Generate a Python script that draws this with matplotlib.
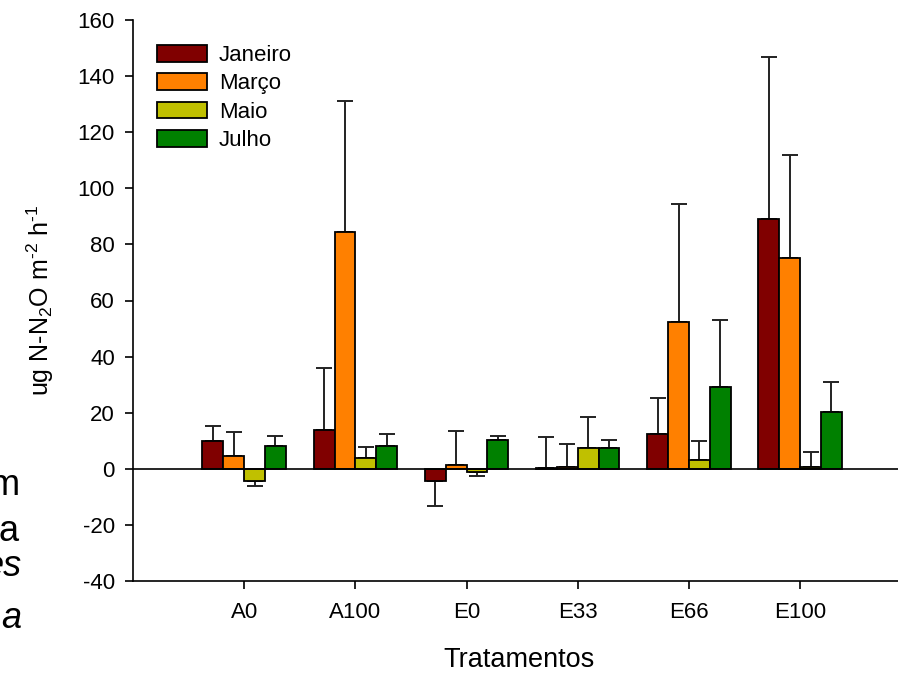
import numpy as np
import matplotlib
matplotlib.use("Agg")
import matplotlib.pyplot as plt

plt.rcParams['font.family'] = ['Liberation Sans', 'DejaVu Sans']
plt.rcParams['axes.unicode_minus'] = False
plt.rcParams['mathtext.fontset'] = 'custom'
plt.rcParams['mathtext.rm'] = 'Liberation Sans'
plt.rcParams['mathtext.it'] = 'Liberation Sans:italic'

tratamentos = ['A0', 'A100', 'E0', 'E33', 'E66', 'E100']
meses = ['Janeiro', 'Março', 'Maio', 'Julho']
cores = ['#800000', '#FF8000', '#C0C000', '#008000']

# médias por mês (ordem dos tratamentos)
janeiro = [10.0, 13.9, -4.5, 0.3, 12.5, 89.0]
marco = [4.6, 84.5, 1.2, 0.8, 52.5, 75.0]
maio = [-4.5, 3.8, -1.0, 7.4, 3.1, 0.6]
julho = [8.0, 8.0, 10.1, 7.4, 29.3, 20.2]

# desvios (barra de erro só para um lado)
erro_janeiro = [5.4, 22.1, 8.7, 10.9, 12.6, 57.7]
erro_marco = [8.6, 46.6, 12.1, 8.2, 41.8, 37.0]
erro_maio = [1.5, 3.8, 1.4, 11.2, 6.9, 5.4]
erro_julho = [3.8, 4.4, 1.6, 2.9, 23.7, 10.7]

medias = [janeiro, marco, maio, julho]
erros = [erro_janeiro, erro_marco, erro_maio, erro_julho]

fig = plt.figure(figsize=(8.98, 6.73), dpi=100)
ax = fig.add_axes([133/898, 1 - 581/673, 1 - 133/898, 561/673])

x = np.arange(len(tratamentos))
w = 0.1875
for i, (mes, cor) in enumerate(zip(meses, cores)):
    pos = x + (i - 1.5) * w
    vals = np.array(medias[i])
    err = np.array(erros[i])
    lower = np.where(vals < 0, err, 0)
    upper = np.where(vals >= 0, err, 0)
    ax.bar(pos, vals, w, color=cor, edgecolor='black', linewidth=1.3,
           label=mes, zorder=3)
    ax.errorbar(pos, vals, yerr=[lower, upper], fmt='none', ecolor='#222222',
                elinewidth=1.4, capsize=5.8, capthick=1.4, zorder=2)

ax.axhline(0, color='black', linewidth=1.2, zorder=4)

ax.set_xlim(-1.0, 5.88)
ax.set_ylim(-40, 160)
ax.set_yticks(range(-40, 161, 20))
ax.set_xticks(x)
ax.set_xticklabels(tratamentos)
ax.spines['top'].set_visible(False)
ax.spines['right'].set_visible(False)
ax.spines['left'].set_linewidth(1.2)
ax.spines['bottom'].set_linewidth(1.2)
ax.tick_params(axis='both', direction='out', length=6, width=1.2,
               labelsize=16)
ax.tick_params(axis='y', pad=7)
ax.tick_params(axis='x', pad=9)

ax.set_ylabel(r'ug N-N$_2$O m$^{\text{-}2}$ h$^{\text{-}1}$', fontsize=18)
ax.yaxis.set_label_coords(-0.1, 0.5)
fig.text(519/898, 1 - 660/673, 'Tratamentos', fontsize=19.5,
         ha='center', va='center')

ax.legend(loc='upper left', bbox_to_anchor=(0.005, 0.991), frameon=False,
          fontsize=16, handlelength=2.25, handleheight=0.76,
          labelspacing=0.33, handletextpad=0.55)

# fragmentos de texto recortados à esquerda
fig.text(20/898, 1 - 495/673, 'm', fontsize=26, va='baseline', ha='right')
fig.text(19/898, 1 - 541/673, 'a', fontsize=26, va='baseline', ha='right')
fig.text(22/898, 1 - 576/673, 'es', fontsize=26, va='baseline', ha='right',
         style='italic')
fig.text(21/898, 1 - 628/673, 'a', fontsize=26, va='baseline', ha='right',
         style='italic')

fig.savefig('out.png', dpi=100)
